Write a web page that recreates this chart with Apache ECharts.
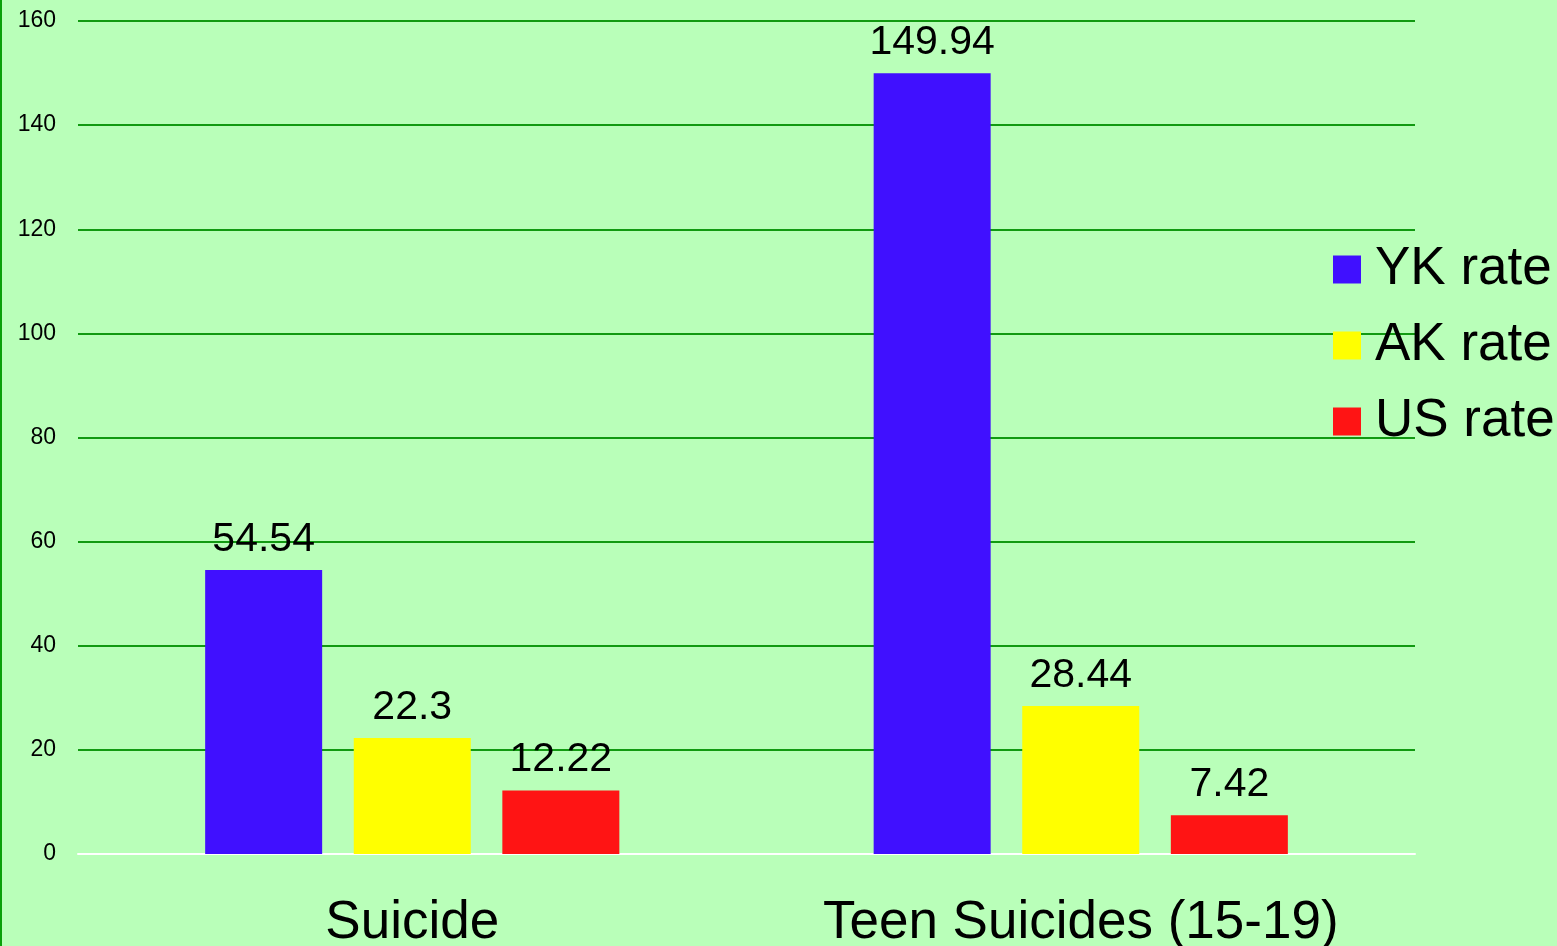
<!DOCTYPE html>
<html>
<head>
<meta charset="utf-8">
<script src="https://cdn.jsdelivr.net/npm/echarts@6/dist/echarts.min.js"></script>
<style>
html, body { margin: 0; padding: 0; background: #b9ffb9; }
#main { width: 1557px; height: 946px; box-sizing: border-box; border-left: 2px solid #0aa00a; }
</style>
</head>
<body>
<div id="main"></div>
<script>
var categories = ['Suicide', 'Teen Suicides (15-19)'];
var ykRate = [54.54, 149.94];
var akRate = [22.3, 28.44];
var usRate = [12.22, 7.42];

var myChart = echarts.init(document.getElementById('main'));
var labelStyle = {
    show: true,
    position: 'top',
    distance: 10,
    color: '#000',
    fontSize: 41,
    fontFamily: 'Liberation Sans'
};
option = {
    backgroundColor: '#b9ffb9',
    animation: false,
    textStyle: { fontFamily: 'Liberation Sans' },
    grid: { left: 76, right: 142, top: 21, bottom: 92, containLabel: false, outerBoundsMode: 'none' },
    legend: {
        orient: 'vertical',
        left: 1326,
        top: 238,
        icon: 'rect',
        itemWidth: 28,
        itemHeight: 28,
        itemGap: 23,
        textStyle: { fontSize: 53, lineHeight: 52, color: '#000', padding: [0, 0, 0, 9] },
        data: ['YK rate', 'AK rate', 'US rate']
    },
    xAxis: {
        type: 'category',
        data: categories,
        axisLine: { lineStyle: { color: '#ffffff', width: 2 } },
        axisTick: { show: false },
        axisLabel: { color: '#000', fontSize: 53, margin: 43, interval: 0, hideOverlap: false }
    },
    yAxis: {
        type: 'value',
        min: 0,
        max: 160,
        interval: 20,
        axisLine: { show: false },
        axisTick: { show: false },
        splitLine: { lineStyle: { color: '#119a11', width: 2 } },
        axisLabel: { color: '#000', fontSize: 23, margin: 22 }
    },
    series: [
        { name: 'YK rate', type: 'bar', data: ykRate, barWidth: 117, barGap: '27%', itemStyle: { color: '#4010ff' }, label: labelStyle },
        { name: 'AK rate', type: 'bar', data: akRate, barWidth: 117, barGap: '27%', itemStyle: { color: '#ffff00' }, label: labelStyle },
        { name: 'US rate', type: 'bar', data: usRate, barWidth: 117, barGap: '27%', itemStyle: { color: '#ff1414' }, label: labelStyle }
    ]
};
myChart.setOption(option);
</script>
</body>
</html>
